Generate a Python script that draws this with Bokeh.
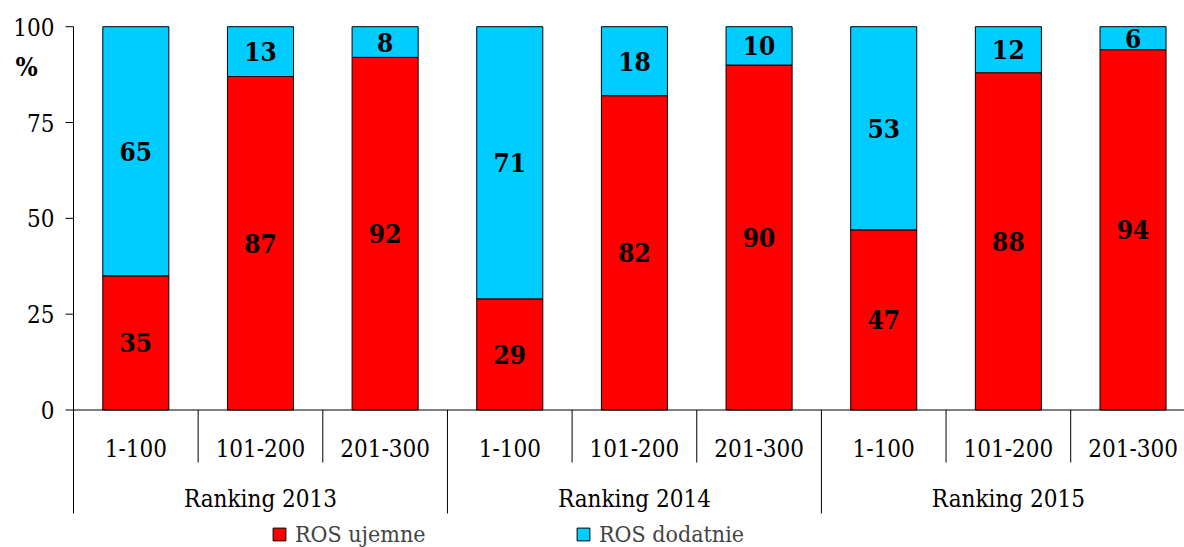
from bokeh.plotting import figure
from bokeh.models import ColumnDataSource, Range1d, Legend, LegendItem
from bokeh.core.properties import value
from bokeh.embed import file_html
from bokeh.resources import INLINE

# --- data -------------------------------------------------------------
groups = ["Ranking 2013", "Ranking 2014", "Ranking 2015"]
ranges = ["1-100", "101-200", "201-300"]
ros_negative = [35, 87, 92, 29, 82, 90, 47, 88, 94]   # ROS ujemne
ros_positive = [65, 13, 8, 71, 18, 10, 53, 12, 6]     # ROS dodatnie
y_ticks = [0, 25, 50, 75, 100]

RED = "#FF0000"
BLUE = "#00CCFF"
SERIF = "DejaVu Serif Condensed, DejaVu Serif"

n = len(ros_negative)
x = [i + 0.5 for i in range(n)]
cat_labels = [r for _ in groups for r in ranges]

src = ColumnDataSource(dict(
    x=x,
    neg=ros_negative,
    pos=ros_positive,
    top=[a + b for a, b in zip(ros_negative, ros_positive)],
    neg_mid=[a / 2 for a in ros_negative],
    pos_mid=[a + b / 2 for a, b in zip(ros_negative, ros_positive)],
    neg_txt=[str(v) for v in ros_negative],
    pos_txt=[str(v) for v in ros_positive],
))

# one category = 1 x unit; the value axis and the category table share the frame
PX_X = 124.65          # pixels per category
PX_Y = 3.833           # pixels per percent
p = figure(width=1184, height=547, output_backend="svg", toolbar_location=None,
           x_range=Range1d(-73 / PX_X, (1184 - 73) / PX_X),
           y_range=Range1d(-(547 - 409.5) / PX_Y, 409.5 / PX_Y),
           x_axis_type=None, y_axis_type=None,
           min_border_left=0, min_border_right=0, min_border_top=0,
           min_border_bottom=0)
p.outline_line_color = None
p.xgrid.visible = False
p.ygrid.visible = False
p.background_fill_color = "white"
p.border_fill_color = "white"

# --- value axis (0-100 %) ---------------------------------------------
tick_len = 8 / PX_X
p.segment(x0=[-tick_len] * len(y_ticks), y0=y_ticks, x1=[0] * len(y_ticks),
          y1=y_ticks, line_color="black", line_width=1)
p.text(x=[-19 / PX_X] * len(y_ticks), y=y_ticks, text=[str(t) for t in y_ticks],
       text_font=value(SERIF), text_font_size="24px", text_color="black",
       text_align="right", text_baseline="middle")
p.text(x=[-47 / PX_X], y=[89.6], text=["%"], text_font=value(SERIF),
       text_font_size="26px", text_font_style="bold", text_color="black",
       text_align="center", text_baseline="middle")

# --- stacked bars -----------------------------------------------------
bw = 0.53
r_neg = p.vbar(x="x", bottom=0, top="neg", width=bw, source=src,
               fill_color=RED, line_color="black", line_width=1)
r_pos = p.vbar(x="x", bottom="neg", top="top", width=bw, source=src,
               fill_color=BLUE, line_color="black", line_width=1)

for ycol, tcol in (("neg_mid", "neg_txt"), ("pos_mid", "pos_txt")):
    p.text(x="x", y=ycol, text=tcol, source=src, text_font=value(SERIF),
           text_font_size="26px", text_font_style="bold", text_color="black",
           text_align="center", text_baseline="middle")

# --- axis lines and category table below the bars ---------------------
p.segment(x0=[0], y0=[0], x1=[n + 1], y1=[0], line_color="black", line_width=1)
p.segment(x0=[0], y0=[-27.0], x1=[0], y1=[100], line_color="black", line_width=1)

cat_sep = [i for i in range(1, n) if i % 3 != 0]
p.segment(x0=cat_sep, y0=[0] * len(cat_sep), x1=cat_sep,
          y1=[-13.7] * len(cat_sep), line_color="black", line_width=1)
grp_sep = [3, 6, 9]
p.segment(x0=grp_sep, y0=[0] * len(grp_sep), x1=grp_sep,
          y1=[-27.0] * len(grp_sep), line_color="black", line_width=1)

p.text(x=x, y=[-9.8] * n, text=cat_labels, text_font=value(SERIF),
       text_font_size="24px", text_color="black",
       text_align="center", text_baseline="middle")
p.text(x=[1.5, 4.5, 7.5], y=[-23.1] * 3, text=groups, text_font=value(SERIF),
       text_font_size="24px", text_color="black",
       text_align="center", text_baseline="middle")

# --- legend -----------------------------------------------------------
for renderer, label, xpos in ((r_neg, "ROS ujemne", 271), (r_pos, "ROS dodatnie", 575)):
    lg = Legend(items=[LegendItem(label=label, renderers=[renderer])],
                location=(xpos, 0), orientation="horizontal",
                padding=0, margin=0, spacing=0,
                glyph_width=16, glyph_height=16, label_standoff=8,
                label_text_font=SERIF, label_text_font_size="23px",
                label_height=20, border_line_color=None,
                background_fill_alpha=0)
    p.add_layout(lg, "center")

open("out.html", "w").write(file_html(p, INLINE))
